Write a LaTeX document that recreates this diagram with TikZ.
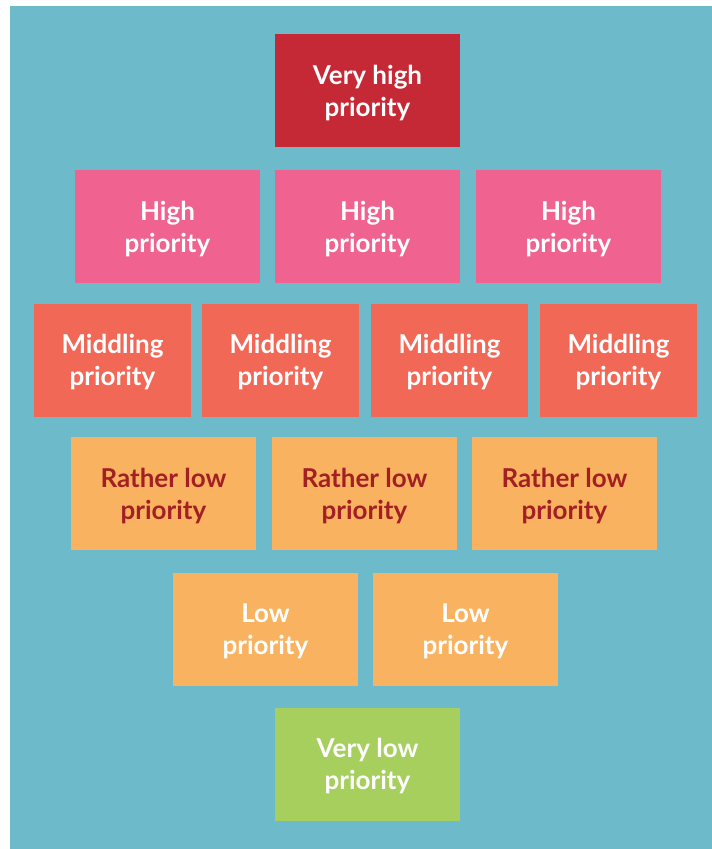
\documentclass[tikz,border=0pt]{standalone}
\usepackage{fontspec}
\setmainfont{Lato}

\definecolor{bgteal}{HTML}{6DBACA}
\definecolor{vhred}{HTML}{C62936}
\definecolor{hpink}{HTML}{F06290}
\definecolor{midred}{HTML}{F26857}
\definecolor{loworange}{HTML}{F9B360}
\definecolor{rltext}{HTML}{A31F24}
\definecolor{vlgreen}{HTML}{A6CF5E}

\begin{document}
\begin{tikzpicture}[x=1pt,y=-1pt,
    prio/.style={rectangle,inner sep=0pt,minimum width=185pt,minimum height=113pt,
      align=center,text=white,text depth=-5pt,font=\fontsize{26}{32}\selectfont\bfseries},
    midprio/.style={prio,minimum width=157pt,fill=midred}]

  % page and background
  \useasboundingbox (0,0) rectangle (712,849);
  \fill [bgteal] (10,6) rectangle (712,849);

  \node [prio,fill=vhred] (vh) at (367.5,90.5) {Very high\\priority};

  \node [prio,fill=hpink] (h1) at (167.5,226.5) {High\\priority};
  \node [prio,fill=hpink] (h2) at (367.5,226.5) {High\\priority};
  \node [prio,fill=hpink] (h3) at (568.5,226.5) {High\\priority};

  \node [midprio] (m1) at (112.5,360) {Middling\\priority};
  \node [midprio] (m2) at (280.5,360) {Middling\\priority};
  \node [midprio] (m3) at (449.5,360) {Middling\\priority};
  \node [midprio] (m4) at (618.5,360) {Middling\\priority};

  \node [prio,fill=loworange,text=rltext] (rl1) at (163.5,493.5) {Rather low\\priority};
  \node [prio,fill=loworange,text=rltext] (rl2) at (364.5,493.5) {Rather low\\priority};
  \node [prio,fill=loworange,text=rltext] (rl3) at (564.5,493.5) {Rather low\\priority};

  \node [prio,fill=loworange] (l1) at (265.5,629.5) {Low\\priority};
  \node [prio,fill=loworange] (l2) at (465.5,629.5) {Low\\priority};

  \node [prio,fill=vlgreen] (vl) at (367.5,764) {Very low\\priority};

\end{tikzpicture}
\end{document}
